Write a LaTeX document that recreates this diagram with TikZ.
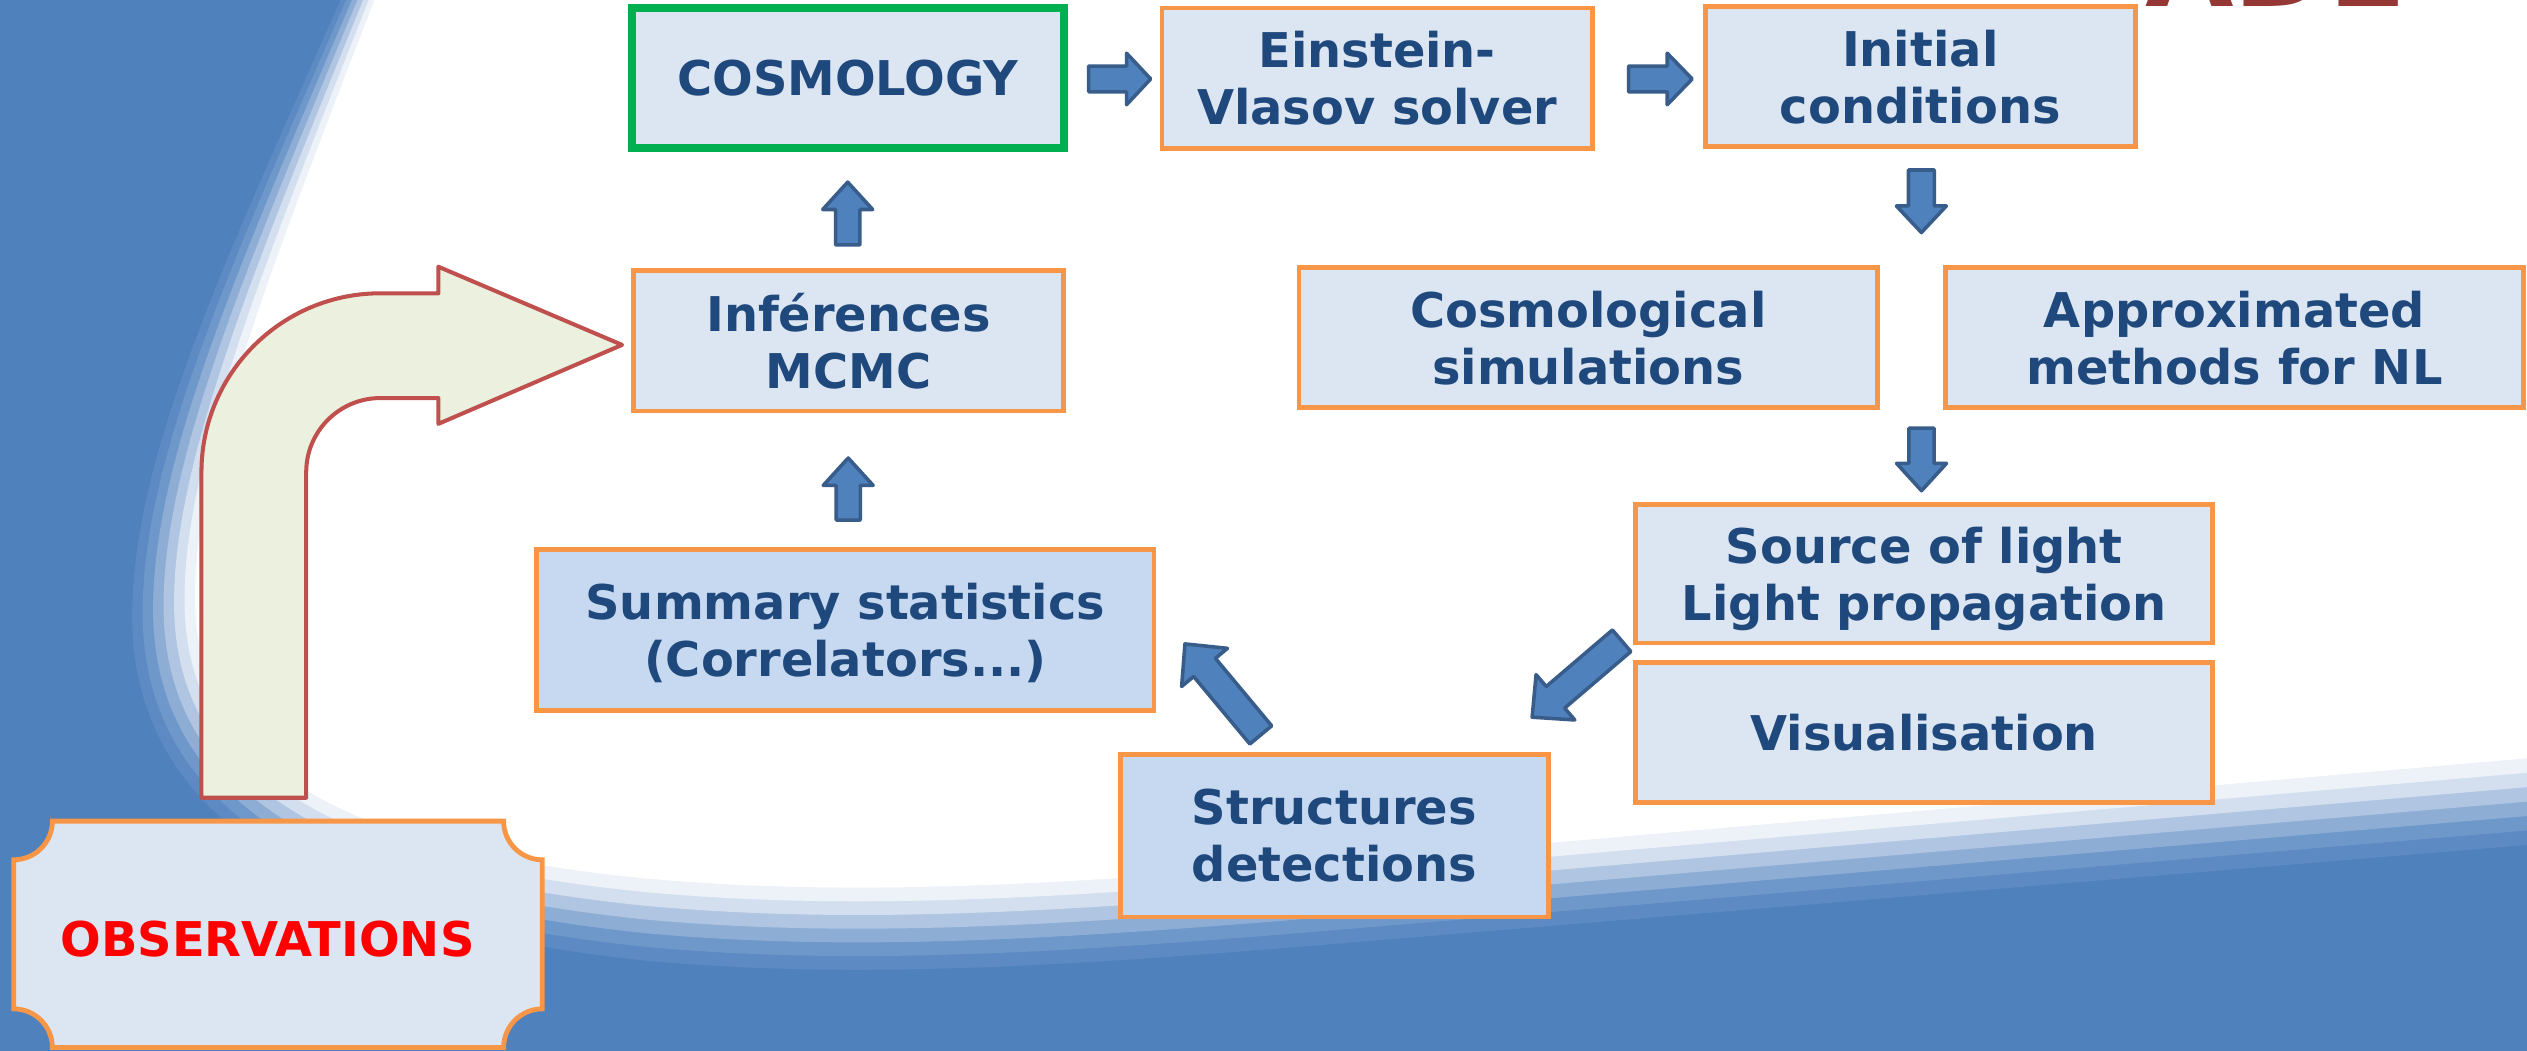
\documentclass[tikz,border=0pt]{standalone}
\usepackage{fontspec}
\setmainfont{DejaVu Sans}
\definecolor{bgblue}{HTML}{4F81BD}
\definecolor{txtblue}{HTML}{1F497D}
\definecolor{boxfill}{HTML}{DCE6F2}
\definecolor{boxfilldk}{HTML}{C6D9F1}
\definecolor{orangeb}{HTML}{F79646}
\definecolor{greenb}{HTML}{00B050}
\definecolor{arrstroke}{HTML}{385D8A}
\definecolor{bentfill}{HTML}{EBF1DE}
\definecolor{bentstroke}{HTML}{C0504D}
\definecolor{titlered}{HTML}{953735}
\definecolor{bandA}{HTML}{5D8AC3}
\definecolor{bandB}{HTML}{6E97CA}
\definecolor{bandC}{HTML}{8EADD5}
\definecolor{bandD}{HTML}{AFC5E2}
\definecolor{bandE}{HTML}{D3DFEF}
\definecolor{bandF}{HTML}{EDF2F8}
% band region k (0 = white edge, 6 = solid blue edge)
\newcommand\swooshband[2]{\fill[#2] ({240-3.3*#1},-20) .. controls ({175-5*#1},150) and ({121-6.5*#1},280) .. ({121-6.5*#1},{370+2*#1}) .. controls ({121-6.5*#1},{470+5*#1}) and ({200-3*#1},{525+8*#1}) .. (400,{545+8.5*#1}) .. controls (520,{556+8.5*#1}) and (640,{550+8.5*#1}) .. (800,{537+8.5*#1}) -- (1620,{466+9*#1}) -- (1620,-20) -- cycle;}
% tail (x,y), angle, length, shaft half width, head half width, head length
\newcommand\blockarr[6]{\draw[barrow, shift={#1}, rotate=#2] (0,-#4) -- ({#3-#6},-#4) -- ({#3-#6},-#5) -- (#3,0) -- ({#3-#6},#5) -- ({#3-#6},#4) -- (0,#4) -- cycle;}
\begin{document}
\begin{tikzpicture}[x=1pt,y=-1pt,
  box/.style={draw=orangeb, line width=3pt, fill=boxfill, text=txtblue,
    font=\fontsize{29.7}{35.4}\selectfont\bfseries, align=center,
    inner sep=0pt, text depth=0pt},
  barrow/.style={fill=bgblue, draw=arrstroke, line width=2.2pt, line join=round},
  bent/.style={fill=bentfill, draw=bentstroke, line width=2.5pt, line join=round}]
\useasboundingbox (0,0) rectangle (1568,652);
\begin{scope}
\clip (0,0) rectangle (1568,652);
\fill[bgblue] (0,0) rectangle (1568,652);
\swooshband{6}{bandA}
\swooshband{5}{bandB}
\swooshband{4}{bandC}
\swooshband{3}{bandD}
\swooshband{2}{bandE}
\swooshband{1}{bandF}
\swooshband{0}{white}
\node[anchor=base west, inner sep=0pt, text=titlered, font=\fontsize{71}{71}\selectfont\bfseries] (title) at (1331,4) {ADE};

% boxes
\node[box, draw=greenb, line width=4.8pt, minimum width=268pt, minimum height=87pt] (cosmo) at (526,48.5) {COSMOLOGY};
\node[box, minimum width=267pt, minimum height=87pt] (einstein) at (854.5,48.5) {Einstein-\\Vlasov solver};
\node[box, minimum width=267pt, minimum height=87pt] (initial) at (1191.5,47.5) {Initial\\conditions};
\node[box, minimum width=359pt, minimum height=87pt] (cosmosim) at (985.5,209.5) {Cosmological\\simulations};
\node[box, minimum width=359pt, minimum height=87pt] (approx) at (1386.5,209.5) {Approximated\\methods for NL};
\node[box, minimum width=358pt, minimum height=86pt] (source) at (1194,356) {Source of light\\Light propagation};
\node[box, minimum width=358pt, minimum height=87pt] (visual) at (1194,454.5) {Visualisation};
\node[box, fill=boxfilldk, minimum width=266pt, minimum height=101pt] (struct) at (828,518.5) {Structures\\detections};
\node[box, fill=boxfilldk, minimum width=383pt, minimum height=100pt] (summary) at (524.5,391) {Summary statistics\\(Correlators...)};
\node[box, minimum width=267pt, minimum height=87pt] (infer) at (526.5,211.5) {Inférences\\MCMC};

% block arrows
\blockarr{(675.5,49)}{0}{38.5}{8}{16}{15}
\blockarr{(1010.5,49)}{0}{39.5}{8}{16}{15.5}
\blockarr{(526,152)}{90}{39}{7.5}{15.5}{17}
\blockarr{(526.3,322.7)}{90}{38.5}{7.5}{15.5}{17}
\blockarr{(1192.2,105.5)}{-90}{38.8}{8}{15.5}{16.5}
\blockarr{(1192.3,265.7)}{-90}{38.8}{7.8}{15.5}{17}
\blockarr{(1006.2,397.6)}{220.5}{73}{8.8}{18.5}{19}
\blockarr{(782.3,456)}{129.8}{73.5}{8.8}{18.5}{19}

% bent arrow
\draw[bent] (125,495) -- (125,293) arc[start angle=180, end angle=270, radius=111] -- (272,182) -- (272,165.5) -- (386,214) -- (272,263) -- (272,247) -- (236,247) arc[start angle=270, end angle=180, radius=46] -- (190,495) -- cycle;

% observations plaque
\draw[draw=orangeb, line width=3pt, fill=boxfill] (32.5,509.5) -- (312.5,509.5) arc[start angle=180, end angle=90, radius=24] -- (336.5,626) arc[start angle=270, end angle=180, radius=24] -- (32.5,650) arc[start angle=0, end angle=-90, radius=24] -- (8.5,533.5) arc[start angle=90, end angle=0, radius=24] -- cycle;
\node[inner sep=0pt, text depth=0pt, text=red, font=\fontsize{29.7}{35.4}\selectfont\bfseries] (obs) at (166,582.5) {OBSERVATIONS};
\end{scope}
\end{tikzpicture}
\end{document}
